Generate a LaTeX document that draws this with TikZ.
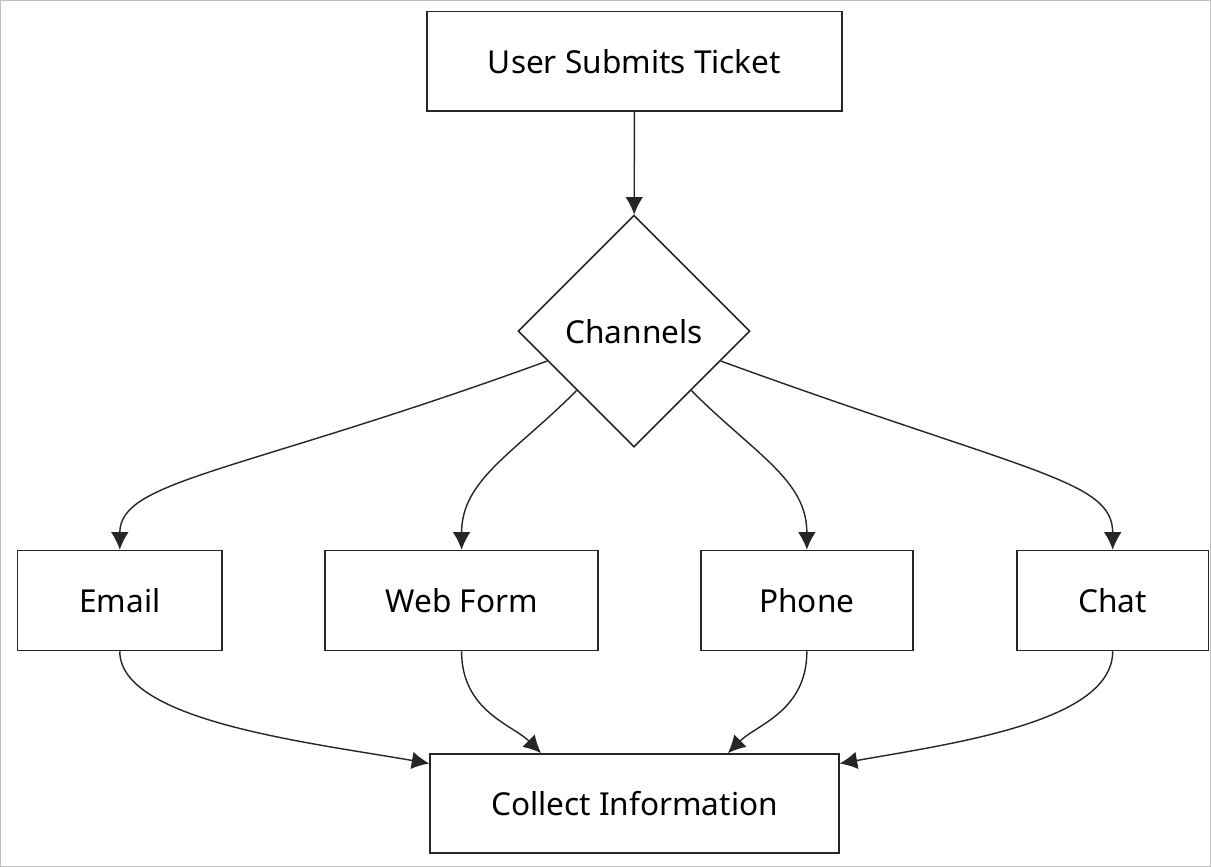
\documentclass[tikz,border=0pt]{standalone}
\usepackage{fontspec}
\setmainfont{Noto Sans}
\usetikzlibrary{shapes.geometric,arrows.meta}
\begin{document}
\begin{tikzpicture}[x=0.02cm,y=-0.02cm,
    box/.style={draw=black!85,line width=0.9pt,minimum height=2cm,font=\fontsize{18}{21}\selectfont},
    choice/.style={draw=black!85,line width=0.9pt,diamond,minimum width=4.64cm,minimum height=4.64cm,inner sep=0pt,font=\fontsize{18}{21}\selectfont},
    flow/.style={draw=black!85,line width=0.8pt,-{Latex[length=10pt,width=10pt]}}]
    \draw[black!25,fill=white] (0,0) rectangle (1211,866);

    \node[box,minimum width=8.3cm] (ticket) at (634.5,61) {User Submits Ticket};
    \node[choice] (channels) at (634,331) {Channels};

    \node[box,minimum width=4.1cm] (email) at (119.5,600.5) {Email};
    \node[box,minimum width=5.46cm] (webform) at (461.5,600.5) {Web Form};
    \node[box,minimum width=4.24cm] (phone) at (807,600.5) {Phone};
    \node[box,minimum width=3.84cm] (chat) at (1113,600.5) {Chat};

    \node[box,minimum width=8.18cm,minimum height=1.98cm] (collect) at (634.5,803.5) {Collect Information};

    % ticket to channels
    \draw[flow] (ticket) -- (channels);

    % channels to each way in
    \draw[flow] (channels.199) .. controls +(160:330) and +(270:70) .. (email.north);
    \draw[flow] (channels.226) .. controls +(135:90) and +(270:70) .. (webform.north);
    \draw[flow] (channels.314) .. controls +(45:90) and +(270:70) .. (phone.north);
    \draw[flow] (channels.341) .. controls +(20:330) and +(270:70) .. (chat.north);

    % each way in to collect
    \draw[flow] (email.south) .. controls +(90:70) and +(190:120) .. (collect.169);
    \draw[flow] (webform.south) .. controls +(90:60) and +(225:40) .. ([xshift=-1.87cm]collect.north);
    \draw[flow] (phone.south) .. controls +(90:60) and +(315:40) .. ([xshift=1.87cm]collect.north);
    \draw[flow] (chat.south) .. controls +(90:70) and +(350:120) .. (collect.11);
\end{tikzpicture}
\end{document}
